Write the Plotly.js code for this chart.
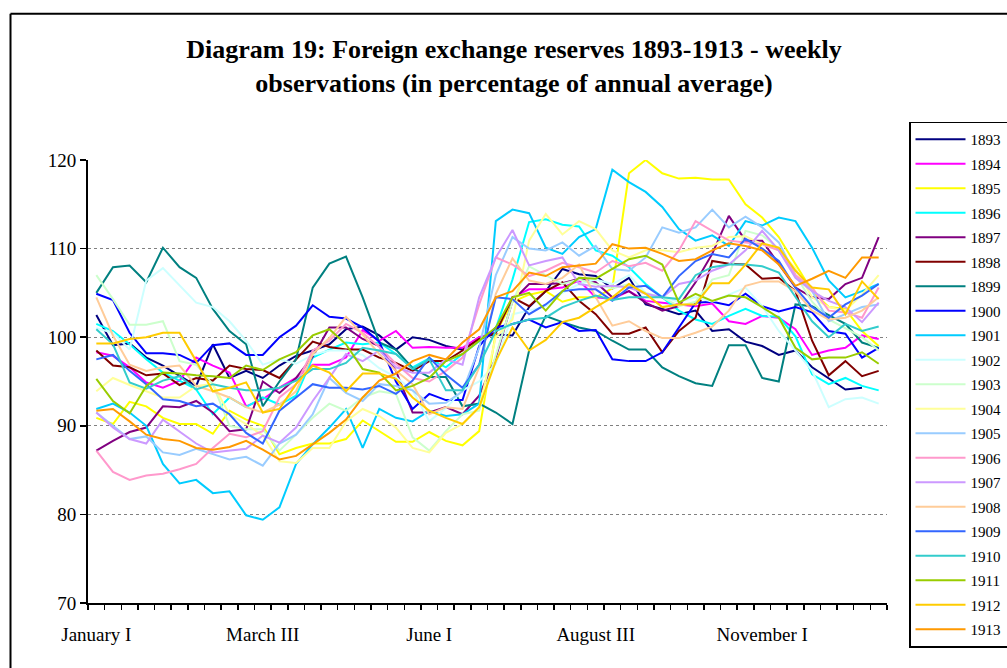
<!DOCTYPE html>
<html>
<head>
<meta charset="utf-8">
<script src="https://cdn.plot.ly/plotly-3.0.1.min.js"></script>
<style>html,body{margin:0;padding:0;background:#fff;}#chart{width:1007px;height:668px;}</style>
</head>
<body>
<div id="chart"></div>
<script>
const months = ["January","February","March","April","May","June","July","August","September","October","November","December"];
const weekNums = ["I","II","III","IV"];
const weeks = [];
months.forEach(m => weekNums.forEach(w => weeks.push(m + " " + w)));

const years = ["1893","1894","1895","1896","1897","1898","1899","1900","1901","1902","1903","1904","1905","1906","1907","1908","1909","1910","1911","1912","1913"];
const colors = ["#000080","#FF00FF","#FFFF00","#00FFFF","#800080","#800000","#008080","#0000FF","#00CCFF","#CCFFFF","#CCFFCC","#FFFF99","#99CCFF","#FF99CC","#CC99FF","#FFCC99","#3366FF","#33CCCC","#99CC00","#FFCC00","#FF9900"];

const y1893 = [102.5,99.1,99.3,97.7,96.8,95.6,94.5,99.2,95.4,96.2,95.4,96.8,97.9,98.5,99.2,100.9,101.2,100.2,98.6,100,99.7,99,98.6,100,100.3,100.2,103.4,105.2,107.7,107.1,106.9,105.5,106.7,103.7,103.2,102.6,103,100.7,100.9,99.5,99,98,98.5,96.6,95.4,94.1,94.3,null];
const y1894 = [98.3,97.9,96.6,94.9,94.3,95.1,97.7,96.8,96,92.2,93,94.3,95.4,96.9,96.9,97.7,100.8,99.6,100.7,98.8,98.9,98.8,98.8,100,100.5,104.5,105.4,105.4,105.6,106.4,104.5,104.3,105.2,104.1,103.9,103.7,103.5,103.8,101.8,101.5,102.4,102.2,100.9,98,98.5,98.8,100.2,99.8];
const y1895 = [90.9,90.2,92.7,92.2,90.9,90.2,90.2,89.1,91.7,90.7,90,86.8,87.5,88,88,88.5,90.6,89.4,88.2,88.2,89.3,88.3,87.8,89.4,100.5,104,104.8,105.2,104,104.5,104.5,105.5,118.5,120,118.5,117.9,118,117.8,117.8,115,113.5,111.3,108.2,105.2,103.4,103.2,100.7,99];
const y1896 = [101.5,100.7,99.2,97.5,96,95.1,94.1,91.3,93.2,92.1,93.2,92.4,93.4,97.7,98.6,99.4,99.2,99.4,98.1,96.6,97.6,96.6,98.1,99.6,101,106.5,113,113.3,112.7,112.5,109.8,109.2,107.9,106,104.5,103,102,101.5,102.4,103.2,102.4,102.3,100.1,95.8,94.7,95.4,94.5,94];
const y1897 = [87.2,88.3,89.3,89.8,92.2,92.1,92.8,91.5,89.4,89.6,95,93.7,95.4,97.8,101.1,101.1,99.8,99,96.2,91.5,91.5,92.1,91.3,93.4,97.7,104.1,106,106,106.1,106.6,106.2,104.5,105.2,103.9,103,103.5,106.2,109.4,113.7,110.9,110.9,108.2,105.6,104.5,104.3,106,106.7,111.3];
const y1898 = [98.5,96.8,96.6,95.7,95.9,94.6,95.4,95.1,96.8,96.4,96.3,95.4,97.5,99.5,98.9,98.6,98.6,97.7,97.1,96.2,97.3,97.3,98.5,99.8,100.5,104.5,103.5,105.2,106.2,104.1,102.6,100.4,100.4,101.1,98.3,100.7,102.2,108.6,108.3,108.2,106.6,106.7,105.2,99.6,95.7,97.3,95.6,96.2];
const y1899 = [105,107.9,108.1,106.2,110.1,107.9,106.7,103.2,100.7,99.2,92.2,95,97.5,105.6,108.3,109.1,104.5,99.4,98.6,96.5,95.5,95.5,92.2,92.5,91.5,90.2,98.5,102.4,101.7,101.1,100.7,99.6,98.6,98.6,96.6,95.6,94.8,94.5,99.1,99.1,95.4,95,103.7,103.5,102.5,101.5,99.4,98.8];
const y1900 = [104.9,104.2,100.5,98.2,98.2,98,97.1,99.1,99.3,98,98,100,101.3,103.6,102.3,102.1,101.1,99.5,95,91.9,93.6,92.9,92.9,99,101.1,101.5,102,101.1,101.7,100.7,100.8,97.5,97.3,97.3,98.3,101.1,103.9,104,103.6,104.9,103.5,102.9,103.4,102.8,100.7,100.4,97.7,98.8];
const y1901 = [91.9,92.5,91.5,90,85.7,83.5,83.9,82.4,82.6,79.9,79.4,80.8,85.7,87.9,89.8,91.9,87.5,91.9,90.9,90.5,91.7,91.1,91.3,92.5,113.1,114.4,114,110.1,109.4,111.3,112.2,118.9,117.5,116.4,114.7,112.2,110.9,111.5,110.3,113.1,112.6,113.5,113.1,110.1,106.4,104.5,105.2,106];
const y1902 = [101,100.5,98.6,106.4,107.8,105.8,103.9,103.4,101.8,99.6,96.9,97.5,97,98,98.5,98.5,98,96.5,95.5,94,90.5,92,94,95,97,102.6,103,103.5,105,106,106.5,106,107,105,104.5,104,104.5,104,104.8,105.6,103.5,100.7,98.5,96.2,92.1,93,93.2,92.5];
const y1903 = [107,104.3,101.4,101.4,101.8,97.3,96.9,94.7,90,89.6,89.6,87.2,89,90.9,92.5,91.7,93.2,93.9,93.6,88.7,87.2,89.4,91.3,91.7,98,104,108,107,106,106.5,106,105.5,106,105,104.5,103.5,104,106.5,107,112,111.5,110,107,104,102,101,100,98.5];
const y1904 = [93.9,95.4,94.6,93.9,93.2,93.2,94.5,94.7,91.3,90.2,88.9,86,85.8,87.5,87.5,90.5,91.9,91.1,89.8,87.5,87,89.2,90.2,92.1,100,102,110.9,113.9,111.6,113.1,112.2,109.8,109,109.8,109.8,109.6,110.1,110.3,111.3,111.4,110.5,109.8,107.8,104.5,103.4,103,104.8,107];
const y1905 = [91.5,90,88.5,88.8,87,86.7,87.4,86.8,86.2,86.5,85.5,88,89,91.3,95.4,93.7,92.8,94.7,94.5,94,92.5,92.6,93.9,98.8,107,111.3,110,109.8,110.7,109.2,110.3,107.7,107.5,109,112.4,111.8,112.4,114.4,112.4,113.6,112.4,110.7,107,105.2,101.8,102.6,103.4,103.7];
const y1906 = [87.2,84.8,83.9,84.4,84.6,85.1,85.7,87.5,89.1,88.7,89.4,93.2,94.7,98.5,99.6,101.5,100.5,98.9,97,95.4,95,96.2,97.7,103.7,109,108.2,106.9,107.5,108.4,107.9,107.3,108.6,108,108.4,107.5,109.8,113.1,112,110.9,110.7,110.5,109.8,107,105.6,103,102.8,102.2,105.6];
const y1907 = [91.5,89.8,88.5,88,90.7,89.4,88,87,87.2,87.4,88.9,88.1,89.8,92.8,95.4,98.1,97.3,98.5,96.6,96,96,97.5,96.9,104.5,109,112.1,108.1,108.6,109,106,105.7,105.8,105.6,104.9,104.5,106,106.4,107.5,108.2,109.8,112,109.8,106.7,105.2,104.1,103.4,101.7,103.9];
const y1908 = [104.5,100.2,96.9,96.2,96.6,96.8,94.5,93.9,93.2,92.1,91.5,92.4,93.9,98.1,99.9,102.3,100.3,98.1,96.2,94.7,91.3,92.1,91.9,96.6,104.9,108.9,106.4,106,106.7,108.2,104.5,101.3,101.8,100.7,99.9,99.9,100.5,101.2,103,105.8,106.3,106.3,105.2,103,102,102.2,103,104.5];
const y1909 = [97.5,98,96.2,94.7,93,92.8,92.2,92.5,91.3,89.2,88,91.7,93.2,94.7,94.3,94.3,94.1,94.5,93.6,95.1,97.7,95.8,94.3,96.9,104.5,104.3,102.6,103.7,105.2,105.4,105.4,104.1,105.6,105.8,104.5,106.9,108.6,109.4,109,111.1,110,108.6,105.6,103.4,102.2,103.7,104.7,106];
const y1910 = [100.9,99.2,94.9,94.2,95.1,95.6,94.1,94.7,94.3,94,94,94.3,95.1,96.4,96.4,97.1,98.8,98.5,98.1,96.4,97.5,94,94,96.9,100.7,101.5,102,102.2,103.4,104.1,104.7,104.2,104.5,104.5,104.5,104.3,107,107.9,108.2,108.2,108,107.3,104.5,101.8,100,101.5,100.7,101.2];
const y1911 = [95.3,92.8,91.4,94.5,96,95.9,95.7,95.6,95.4,96.8,96.3,97.5,98.3,100.2,100.9,99.2,96.4,96,94,94.5,95.4,97.3,98.1,99.6,101.1,104.5,105,103,105.2,106.7,106.6,107.7,108.8,109.2,108.2,103.9,104.9,104.1,104.7,104.5,103.4,102.2,98.8,97.5,97.7,97.7,98.3,97];
const y1912 = [99.3,99.3,99.8,100,100.5,100.5,97.3,93.9,94.3,94.9,91.5,91.9,94.7,96.8,96,93.9,95.9,95.9,95.3,93.2,91.7,90.9,90.2,92.1,97.3,101.1,98.5,99.7,101.7,102.2,103.4,104.5,106,104.9,103.4,103.7,103.7,106.1,106.1,108.2,110.6,110.1,107.5,105.6,105.4,102.6,106.3,104.3];
const y1913 = [91.7,91.9,90.5,89,88.5,88.3,87.5,87.3,87.6,88.3,87.3,86.2,86.6,87.9,89.2,90.7,93.2,95.1,95.9,97.3,98,97.5,99.4,100.9,104.5,105.2,107.3,106.9,107.9,108.1,108.3,110.5,110,110.1,109.4,108.6,108.8,109.8,110.6,110.3,109.8,108.2,105.8,106.6,107.5,106.7,109,109];

const series = [y1893,y1894,y1895,y1896,y1897,y1898,y1899,y1900,y1901,y1902,y1903,y1904,y1905,y1906,y1907,y1908,y1909,y1910,y1911,y1912,y1913];
const yTicks = [70,80,90,100,110,120];
const labelIdx = [0,10,20,30,40];

const xIdx = weeks.map((w,i) => i);
const traces = series.map((s,k) => ({
  type: 'scatter', mode: 'lines', x: xIdx, y: s, name: years[k],
  line: {color: colors[k], width: 2}, legendgroup: years[k], hoverinfo: 'skip'
}));

const PL = 88, PR = 887, PT = 159.5, PB = 603;
const px = v => (v - PL) / (PR - PL);
const py = v => (PB - v) / (PB - PT);
const SERIF = 'Liberation Serif, Times New Roman, serif';

const layout = {
  width: 1007, height: 668,
  margin: {l: PL, r: 1007 - PR, t: PT, b: 668 - PB, pad: 0, autoexpand: false},
  paper_bgcolor: '#ffffff', plot_bgcolor: '#ffffff',
  font: {family: SERIF, color: '#000', size: 19},
  title: {
    text: '<b>Diagram 19: Foreign exchange reserves 1893-1913 - weekly<br>observations (in percentage of annual average)</b>',
    font: {family: SERIF, size: 26, color: '#000'},
    xref: 'container', x: 514/1007, xanchor: 'center',
    yref: 'container', y: 1 - 58/668, yanchor: 'top'
  },
  showlegend: true,
  legend: {
    x: px(909), y: py(121), xanchor: 'left', yanchor: 'top',
    bgcolor: '#ffffff', bordercolor: '#000', borderwidth: 1.5,
    font: {family: SERIF, size: 15, color: '#000'},
    traceorder: 'grouped', tracegroupgap: 2, itemwidth: 50, maxheight: 1000
  },
  xaxis: {
    range: [-0.5, weeks.length - 0.5], tickmode: 'linear', tick0: -0.5, dtick: 1,
    ticks: 'outside', ticklen: 5, tickwidth: 1.5, tickcolor: '#000',
    showticklabels: false, showgrid: false, zeroline: false,
    showline: true, linecolor: '#000', linewidth: 2, fixedrange: true
  },
  xaxis2: {
    overlaying: 'x', anchor: 'y', side: 'bottom',
    range: [-0.5, weeks.length - 0.5], tickmode: 'array',
    tickvals: labelIdx, ticktext: labelIdx.map(i => weeks[i]),
    ticks: 'outside', ticklen: 14, tickcolor: 'rgba(0,0,0,0)',
    showgrid: false, zeroline: false, showline: false,
    tickfont: {family: SERIF, size: 19, color: '#000'}
  },
  yaxis: {
    range: [70, 120], tickvals: yTicks, ticktext: yTicks.map(String),
    ticks: 'outside', ticklen: 6, tickwidth: 1.5, tickcolor: '#000',
    showgrid: true, gridcolor: '#808080', gridwidth: 1, griddash: 'dot',
    zeroline: false, showline: true, linecolor: '#000', linewidth: 2,
    tickfont: {family: SERIF, size: 19, color: '#000'}
  },
  shapes: [
    {type: 'line', xref: 'paper', yref: 'paper', x0: px(10.5), x1: px(1012), y0: py(13), y1: py(13), line: {color: '#000', width: 2}},
    {type: 'line', xref: 'paper', yref: 'paper', x0: px(10.5), x1: px(10.5), y0: py(13), y1: py(675), line: {color: '#000', width: 2}}
  ]
};

traces.push({type: 'scatter', mode: 'lines', x: [], y: [], xaxis: 'x2', showlegend: false, hoverinfo: 'skip'});

Plotly.newPlot('chart', traces, layout, {staticPlot: true, displayModeBar: false});
</script>
</body>
</html>
